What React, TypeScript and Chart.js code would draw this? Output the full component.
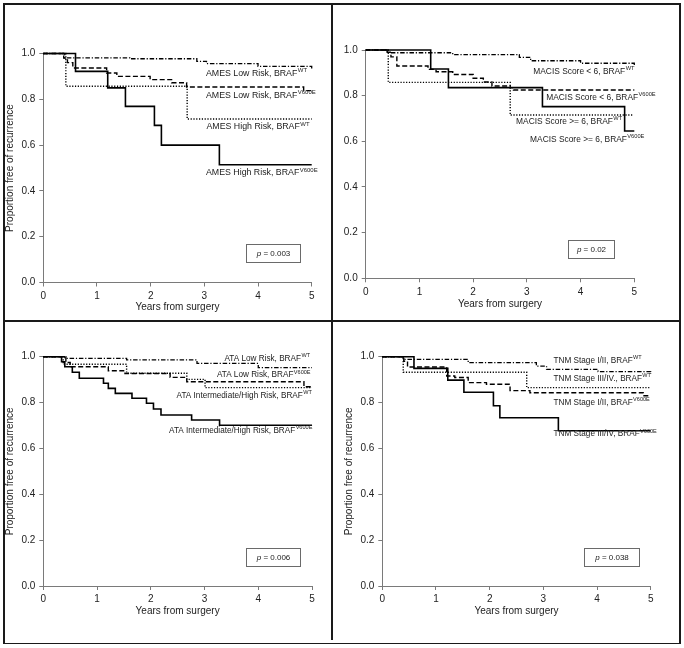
import React, { useEffect, useRef } from "react";
import { Chart, registerables } from "chart.js";

Chart.register(...registerables);

// ---------------- data ----------------
const xTicks = [0, 1, 2, 3, 4, 5];
const yTicks = [0, 0.2, 0.4, 0.6, 0.8, 1.0];
const xAxisTitle = "Years from surgery";
const yAxisTitle = "Proportion free of recurrence";

// Panel A: AMES
const amesLowWtT = [0, 0.4, 1.61, 2.86, 3.04, 4.0, 5];
const amesLowWtS = [1, 0.981, 0.977, 0.966, 0.956, 0.944, 0.93];
const amesLowV600eT = [0, 0.38, 0.45, 0.55, 1.18, 1.37, 1.99, 2.39, 2.67, 4.85, 5];
const amesLowV600eS = [1, 0.98, 0.96, 0.937, 0.915, 0.9, 0.886, 0.872, 0.854, 0.838, 0.838];
const amesHighWtT = [0, 0.42, 2.68, 5];
const amesHighWtS = [1, 0.857, 0.714, 0.714];
const amesHighV600eT = [0, 0.6, 1.2, 1.53, 2.07, 2.2, 3.28, 5];
const amesHighV600eS = [1, 0.922, 0.85, 0.769, 0.686, 0.6, 0.514, 0.514];
const amesLabels = ["AMES Low Risk, BRAF", "AMES Low Risk, BRAF", "AMES High Risk, BRAF", "AMES High Risk, BRAF"];

// Panel B: MACIS
const macisLowWtT = [0, 0.4, 1.62, 2.86, 3.07, 4.0, 5];
const macisLowWtS = [1, 0.988, 0.98, 0.968, 0.953, 0.942, 0.93];
const macisLowV600eT = [0, 0.4, 0.47, 0.58, 1.16, 1.31, 1.62, 2.0, 2.19, 2.35, 2.69, 2.75, 5];
const macisLowV600eS = [1, 0.99, 0.97, 0.93, 0.915, 0.905, 0.893, 0.876, 0.86, 0.842, 0.835, 0.825, 0.825];
const macisHighWtT = [0, 0.42, 2.69, 4.98];
const macisHighWtS = [1, 0.858, 0.715, 0.715];
const macisHighV600eT = [0, 1.21, 1.54, 3.29, 4.82, 5];
const macisHighV600eS = [1, 0.917, 0.835, 0.752, 0.645, 0.645];
const macisLabels = ["MACIS Score < 6, BRAF", "MACIS Score < 6, BRAF", "MACIS Score >= 6, BRAF", "MACIS Score >= 6, BRAF"];

// Panel C: ATA
const ataLowWtT = [0, 0.4, 1.55, 2.86, 4.0, 5];
const ataLowWtS = [1, 0.993, 0.986, 0.971, 0.952, 0.952];
const ataLowV600eT = [0, 0.42, 0.5, 1.21, 1.52, 2.36, 2.67, 4.85, 5];
const ataLowV600eS = [1, 0.975, 0.956, 0.939, 0.927, 0.91, 0.891, 0.869, 0.869];
const ataIntWtT = [0, 0.37, 1.55, 2.67, 3.01, 5];
const ataIntWtS = [1, 0.967, 0.928, 0.901, 0.865, 0.865];
const ataIntV600eT = [0, 0.34, 0.4, 0.54, 0.67, 1.12, 1.21, 1.34, 1.65, 1.92, 2.05, 2.19, 2.76, 3.28, 5];
const ataIntV600eS = [1, 0.978, 0.956, 0.932, 0.906, 0.884, 0.862, 0.84, 0.819, 0.797, 0.772, 0.746, 0.724, 0.701, 0.701];
const ataLabels = ["ATA Low Risk, BRAF", "ATA Low Risk, BRAF", "ATA Intermediate/High Risk, BRAF", "ATA Intermediate/High Risk, BRAF"];

// Panel D: TNM
const tnmEarlyWtT = [0, 0.39, 1.6, 2.87, 3.06, 4.02, 5];
const tnmEarlyWtS = [1, 0.988, 0.974, 0.959, 0.945, 0.935, 0.925];
const tnmLateWtT = [0, 0.39, 2.69, 5];
const tnmLateWtS = [1, 0.932, 0.865, 0.865];
const tnmEarlyV600eT = [0, 0.4, 0.47, 1.2, 1.35, 1.6, 1.94, 2.38, 2.75, 4.86, 5];
const tnmEarlyV600eS = [1, 0.98, 0.955, 0.916, 0.909, 0.887, 0.88, 0.852, 0.843, 0.83, 0.83];
const tnmLateV600eT = [0, 0.59, 1.22, 1.52, 2.07, 2.19, 3.28, 5];
const tnmLateV600eS = [1, 0.949, 0.898, 0.845, 0.786, 0.734, 0.677, 0.677];
const tnmLabels = ["TNM Stage I/II, BRAF", "TNM Stage III/IV., BRAF", "TNM Stage I/II, BRAF", "TNM Stage III/IV, BRAF"];

const superscripts = ["WT", "V600E"];
const pValues = ["0.003", "0.02", "0.006", "0.038"];

// ---------------- styles / layout ----------------
const FONT = "'Liberation Sans', Arial, Helvetica, sans-serif";
const TEXT = "#222";
const AXIS = "#7a7a7a";

const STYLES: Record<string, { dash: number[]; width: number }> = {
  solid: { dash: [], width: 1.6 },
  dashed: { dash: [5, 2.5], width: 1.4 },
  dotted: { dash: [1.2, 1.6], width: 1.4 },
  dashdot: { dash: [4.5, 1.8, 1.2, 1.8], width: 1.3 },
};

type Series = { t: number[]; s: number[]; style: string };
type Note = { text: string; sup: string; t: number; s: number };
type PanelCfg = {
  left: number; top: number; w: number; h: number;
  padTop: number; padRight: number; yAxisW: number; xAxisH: number;
  yTitle: boolean; yTitlePad: number; xTitlePad: number;
  labelSize: number;
  series: Series[]; notes: Note[];
  p: string; pBox: [number, number, number, number];
};

const panels: PanelCfg[] = [
  {
    left: 0, top: 0, w: 332, h: 321,
    padTop: 53.5, padRight: 20.3, yAxisW: 43.3, xAxisH: 38.5,
    yTitle: true, yTitlePad: 4.5, xTitlePad: 7.7, labelSize: 8.8,
    series: [
      { t: amesLowWtT, s: amesLowWtS, style: "dashdot" },
      { t: amesLowV600eT, s: amesLowV600eS, style: "dashed" },
      { t: amesHighWtT, s: amesHighWtS, style: "dotted" },
      { t: amesHighV600eT, s: amesHighV600eS, style: "solid" },
    ],
    notes: [
      { text: amesLabels[0], sup: superscripts[0], t: 3.03, s: 0.911 },
      { text: amesLabels[1], sup: superscripts[1], t: 3.03, s: 0.816 },
      { text: amesLabels[2], sup: superscripts[0], t: 3.04, s: 0.679 },
      { text: amesLabels[3], sup: superscripts[1], t: 3.03, s: 0.478 },
    ],
    p: pValues[0], pBox: [3.776, 4.78, 0.167, 0.088],
  },
  {
    left: 332, top: 0, w: 352, h: 321,
    padTop: 50, padRight: 49.7, yAxisW: 33.7, xAxisH: 42.7,
    yTitle: false, yTitlePad: 0, xTitlePad: 10.7, labelSize: 8.4,
    series: [
      { t: macisLowWtT, s: macisLowWtS, style: "dashdot" },
      { t: macisLowV600eT, s: macisLowV600eS, style: "dashed" },
      { t: macisHighWtT, s: macisHighWtS, style: "dotted" },
      { t: macisHighV600eT, s: macisHighV600eS, style: "solid" },
    ],
    notes: [
      { text: macisLabels[0], sup: superscripts[0], t: 3.12, s: 0.905 },
      { text: macisLabels[1], sup: superscripts[1], t: 3.36, s: 0.791 },
      { text: macisLabels[2], sup: superscripts[0], t: 2.8, s: 0.686 },
      { text: macisLabels[3], sup: superscripts[1], t: 3.06, s: 0.609 },
    ],
    p: pValues[1], pBox: [3.77, 4.63, 0.168, 0.088],
  },
  {
    left: 0, top: 321, w: 332, h: 327,
    padTop: 35.7, padRight: 20, yAxisW: 43.3, xAxisH: 62,
    yTitle: true, yTitlePad: 3.8, xTitlePad: 30.3, labelSize: 8.2,
    series: [
      { t: ataLowWtT, s: ataLowWtS, style: "dashdot" },
      { t: ataLowV600eT, s: ataLowV600eS, style: "dashed" },
      { t: ataIntWtT, s: ataIntWtS, style: "dotted" },
      { t: ataIntV600eT, s: ataIntV600eS, style: "solid" },
    ],
    notes: [
      { text: ataLabels[0], sup: superscripts[0], t: 3.37, s: 0.993 },
      { text: ataLabels[1], sup: superscripts[1], t: 3.23, s: 0.92 },
      { text: ataLabels[2], sup: superscripts[0], t: 2.48, s: 0.83 },
      { text: ataLabels[3], sup: superscripts[1], t: 2.34, s: 0.677 },
    ],
    p: pValues[2], pBox: [3.77, 4.78, 0.167, 0.089],
  },
  {
    left: 332, top: 321, w: 352, h: 327,
    padTop: 35.7, padRight: 33.3, yAxisW: 50.3, xAxisH: 62,
    yTitle: true, yTitlePad: 11.2, xTitlePad: 30.3, labelSize: 8.2,
    series: [
      { t: tnmEarlyWtT, s: tnmEarlyWtS, style: "dashdot" },
      { t: tnmLateWtT, s: tnmLateWtS, style: "dotted" },
      { t: tnmEarlyV600eT, s: tnmEarlyV600eS, style: "dashed" },
      { t: tnmLateV600eT, s: tnmLateV600eS, style: "solid" },
    ],
    notes: [
      { text: tnmLabels[0], sup: superscripts[0], t: 3.19, s: 0.983 },
      { text: tnmLabels[1], sup: superscripts[0], t: 3.19, s: 0.906 },
      { text: tnmLabels[2], sup: superscripts[1], t: 3.19, s: 0.799 },
      { text: tnmLabels[3], sup: superscripts[1], t: 3.19, s: 0.662 },
    ],
    p: pValues[3], pBox: [3.76, 4.79, 0.167, 0.089],
  },
];

function KMPanel({ cfg }: { cfg: PanelCfg }) {
  const ref = useRef<HTMLCanvasElement>(null);
  useEffect(() => {
    const canvas = ref.current!;
    const notesPlugin = {
      id: "kmNotes",
      afterDatasetsDraw(chart: any) {
        const ctx = chart.ctx as CanvasRenderingContext2D;
        const xs = chart.scales.x;
        const ys = chart.scales.y;
        ctx.save();
        ctx.fillStyle = TEXT;
        ctx.textBaseline = "middle";
        ctx.textAlign = "left";
        for (const n of cfg.notes) {
          const x = xs.getPixelForValue(n.t);
          const y = ys.getPixelForValue(n.s);
          ctx.font = `${cfg.labelSize}px ${FONT}`;
          ctx.fillText(n.text, x, y);
          const w = ctx.measureText(n.text).width;
          ctx.font = `${cfg.labelSize * 0.68}px ${FONT}`;
          ctx.fillText(n.sup, x + w + 0.4, y - cfg.labelSize * 0.35);
        }
        // p-value box
        const [t0, t1, s0, s1] = cfg.pBox;
        const bx0 = Math.round(xs.getPixelForValue(t0)) + 0.5;
        const bx1 = Math.round(xs.getPixelForValue(t1)) + 0.5;
        const by0 = Math.round(ys.getPixelForValue(s0)) + 0.5;
        const by1 = Math.round(ys.getPixelForValue(s1)) + 0.5;
        ctx.strokeStyle = "#6a6a6a";
        ctx.lineWidth = 1;
        ctx.setLineDash([]);
        ctx.strokeRect(bx0, by0, bx1 - bx0, by1 - by0);
        const pFont = `italic 8px ${FONT}`;
        const rFont = `8px ${FONT}`;
        const rest = " = " + cfg.p;
        ctx.font = pFont;
        const wp = ctx.measureText("p").width;
        ctx.font = rFont;
        const wr = ctx.measureText(rest).width;
        const cx = (bx0 + bx1) / 2;
        const cy = (by0 + by1) / 2;
        const sx = cx - (wp + wr) / 2;
        ctx.font = pFont;
        ctx.fillText("p", sx, cy);
        ctx.font = rFont;
        ctx.fillText(rest, sx + wp, cy);
        ctx.restore();
      },
    };

    const tickFont = { family: FONT, size: 10 };
    const chart = new Chart(canvas, {
      type: "line",
      data: {
        datasets: cfg.series.map((se) => ({
          data: se.t.map((t, i) => ({ x: t, y: se.s[i] })),
          borderColor: "#000",
          borderWidth: STYLES[se.style].width,
          borderDash: STYLES[se.style].dash,
          stepped: "before" as const,
          pointRadius: 0,
          fill: false,
          tension: 0,
          clip: 4,
        })),
      },
      options: {
        animation: false,
        responsive: false,
        devicePixelRatio: 1,
        events: [],
        layout: { padding: { left: 0, top: cfg.padTop, right: cfg.padRight, bottom: 0 } },
        plugins: { legend: { display: false }, tooltip: { enabled: false }, title: { display: false } },
        scales: {
          x: {
            type: "linear",
            min: xTicks[0],
            max: xTicks[xTicks.length - 1],
            afterBuildTicks: (s: any) => { s.ticks = xTicks.map((v) => ({ value: v })); },
            ticks: { font: tickFont, color: TEXT, padding: 3.5, maxRotation: 0, autoSkip: false, callback: (v: any) => String(v) },
            grid: { drawOnChartArea: false, drawTicks: true, tickLength: 4, color: AXIS, lineWidth: 1 },
            border: { display: true, color: AXIS, width: 1 },
            title: { display: true, text: xAxisTitle, font: { family: FONT, size: 10 }, color: TEXT, padding: { top: 0, bottom: cfg.xTitlePad } },
            afterFit: (s: any) => { s.height = cfg.xAxisH; },
          },
          y: {
            type: "linear",
            min: 0,
            max: 1,
            afterBuildTicks: (s: any) => { s.ticks = yTicks.map((v) => ({ value: v })); },
            ticks: { font: tickFont, color: TEXT, padding: 4, autoSkip: false, callback: (v: any) => Number(v).toFixed(1) },
            grid: { drawOnChartArea: false, drawTicks: true, tickLength: 4, color: AXIS, lineWidth: 1 },
            border: { display: true, color: AXIS, width: 1 },
            title: { display: cfg.yTitle, text: yAxisTitle, font: { family: FONT, size: 10 }, color: TEXT, padding: { top: cfg.yTitlePad, bottom: 0 } },
            afterFit: (s: any) => { s.width = cfg.yAxisW; },
          },
        },
      } as any,
      plugins: [notesPlugin],
    });
    return () => chart.destroy();
  }, [cfg]);
  return (
    <canvas
      ref={ref}
      width={cfg.w}
      height={cfg.h}
      style={{ position: "absolute", left: cfg.left, top: cfg.top, width: cfg.w, height: cfg.h }}
    />
  );
}

const frameLines: [number, number, number, number][] = [
  [3, 3, 678, 1.5],
  [3, 642.5, 678, 1.5],
  [3, 3, 1.5, 641],
  [679, 3, 1.5, 641],
  [331, 3, 1.5, 637],
  [3, 320.3, 678, 1.5],
];

export default function App() {
  return (
    <div style={{ position: "absolute", left: 0, top: 0, width: 684, height: 648, background: "#fff", overflow: "hidden" }}>
      {panels.map((p, i) => (
        <KMPanel key={i} cfg={p} />
      ))}
      {frameLines.map(([l, t, w, h], i) => (
        <div key={"f" + i} style={{ position: "absolute", left: l, top: t, width: w, height: h, background: "#1a1a1a" }} />
      ))}
    </div>
  );
}
